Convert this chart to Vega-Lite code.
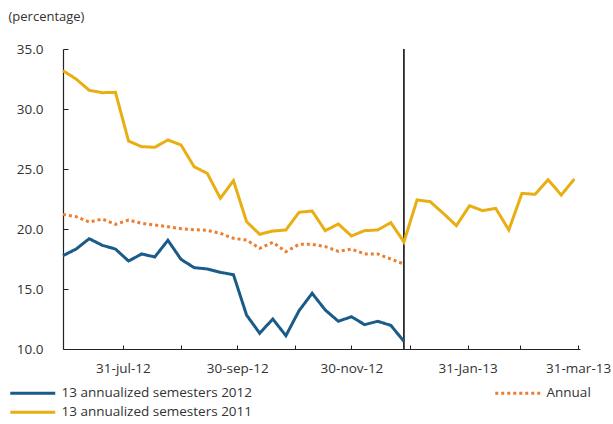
{
  "$schema": "https://vega.github.io/schema/vega-lite/v6.json",
  "width": 517,
  "height": 300,
  "autosize": {"type": "none"},
  "padding": {"left": 63, "top": 49, "right": 33, "bottom": 75},
  "background": "white",
  "config": {
    "view": {"stroke": null},
    "font": "Open Sans",
    "axis": {"labelFont": "Open Sans", "labelFontSize": 13.5, "labelColor": "#333333", "titleFont": "Open Sans", "titleFontSize": 13, "titleFontWeight": "normal", "titleColor": "#333333", "grid": false, "domainColor": "#222222", "tickColor": "#222222"},
    "legend": {"labelFont": "Open Sans", "labelFontSize": 13.5, "labelColor": "#333333"}
  },
  "datasets": {
    "lines": [
      {"date": "2012-06-29", "series": "13 annualized semesters 2011", "value": 33.19},
      {"date": "2012-07-06", "series": "13 annualized semesters 2011", "value": 32.5},
      {"date": "2012-07-13", "series": "13 annualized semesters 2011", "value": 31.56},
      {"date": "2012-07-20", "series": "13 annualized semesters 2011", "value": 31.36},
      {"date": "2012-07-27", "series": "13 annualized semesters 2011", "value": 31.39},
      {"date": "2012-08-03", "series": "13 annualized semesters 2011", "value": 27.33},
      {"date": "2012-08-10", "series": "13 annualized semesters 2011", "value": 26.86},
      {"date": "2012-08-17", "series": "13 annualized semesters 2011", "value": 26.81},
      {"date": "2012-08-24", "series": "13 annualized semesters 2011", "value": 27.42},
      {"date": "2012-08-31", "series": "13 annualized semesters 2011", "value": 27.0},
      {"date": "2012-09-07", "series": "13 annualized semesters 2011", "value": 25.19},
      {"date": "2012-09-14", "series": "13 annualized semesters 2011", "value": 24.64},
      {"date": "2012-09-21", "series": "13 annualized semesters 2011", "value": 22.56},
      {"date": "2012-09-28", "series": "13 annualized semesters 2011", "value": 24.03},
      {"date": "2012-10-05", "series": "13 annualized semesters 2011", "value": 20.61},
      {"date": "2012-10-12", "series": "13 annualized semesters 2011", "value": 19.56},
      {"date": "2012-10-19", "series": "13 annualized semesters 2011", "value": 19.83},
      {"date": "2012-10-26", "series": "13 annualized semesters 2011", "value": 19.92},
      {"date": "2012-11-02", "series": "13 annualized semesters 2011", "value": 21.39},
      {"date": "2012-11-09", "series": "13 annualized semesters 2011", "value": 21.5},
      {"date": "2012-11-16", "series": "13 annualized semesters 2011", "value": 19.86},
      {"date": "2012-11-23", "series": "13 annualized semesters 2011", "value": 20.42},
      {"date": "2012-11-30", "series": "13 annualized semesters 2011", "value": 19.42},
      {"date": "2012-12-07", "series": "13 annualized semesters 2011", "value": 19.86},
      {"date": "2012-12-14", "series": "13 annualized semesters 2011", "value": 19.92},
      {"date": "2012-12-21", "series": "13 annualized semesters 2011", "value": 20.53},
      {"date": "2012-12-28", "series": "13 annualized semesters 2011", "value": 18.92},
      {"date": "2013-01-04", "series": "13 annualized semesters 2011", "value": 22.42},
      {"date": "2013-01-11", "series": "13 annualized semesters 2011", "value": 22.28},
      {"date": "2013-01-18", "series": "13 annualized semesters 2011", "value": 21.31},
      {"date": "2013-01-25", "series": "13 annualized semesters 2011", "value": 20.28},
      {"date": "2013-02-01", "series": "13 annualized semesters 2011", "value": 21.94},
      {"date": "2013-02-08", "series": "13 annualized semesters 2011", "value": 21.53},
      {"date": "2013-02-15", "series": "13 annualized semesters 2011", "value": 21.72},
      {"date": "2013-02-22", "series": "13 annualized semesters 2011", "value": 19.92},
      {"date": "2013-03-01", "series": "13 annualized semesters 2011", "value": 22.97},
      {"date": "2013-03-08", "series": "13 annualized semesters 2011", "value": 22.89},
      {"date": "2013-03-15", "series": "13 annualized semesters 2011", "value": 24.1},
      {"date": "2013-03-22", "series": "13 annualized semesters 2011", "value": 22.83},
      {"date": "2013-03-29", "series": "13 annualized semesters 2011", "value": 24.17},
      {"date": "2012-06-29", "series": "13 annualized semesters 2012", "value": 17.78},
      {"date": "2012-07-06", "series": "13 annualized semesters 2012", "value": 18.33},
      {"date": "2012-07-13", "series": "13 annualized semesters 2012", "value": 19.19},
      {"date": "2012-07-20", "series": "13 annualized semesters 2012", "value": 18.64},
      {"date": "2012-07-27", "series": "13 annualized semesters 2012", "value": 18.33},
      {"date": "2012-08-03", "series": "13 annualized semesters 2012", "value": 17.33},
      {"date": "2012-08-10", "series": "13 annualized semesters 2012", "value": 17.92},
      {"date": "2012-08-17", "series": "13 annualized semesters 2012", "value": 17.67},
      {"date": "2012-08-24", "series": "13 annualized semesters 2012", "value": 19.06},
      {"date": "2012-08-31", "series": "13 annualized semesters 2012", "value": 17.47},
      {"date": "2012-09-07", "series": "13 annualized semesters 2012", "value": 16.78},
      {"date": "2012-09-14", "series": "13 annualized semesters 2012", "value": 16.67},
      {"date": "2012-09-21", "series": "13 annualized semesters 2012", "value": 16.39},
      {"date": "2012-09-28", "series": "13 annualized semesters 2012", "value": 16.19},
      {"date": "2012-10-05", "series": "13 annualized semesters 2012", "value": 12.83},
      {"date": "2012-10-12", "series": "13 annualized semesters 2012", "value": 11.31},
      {"date": "2012-10-19", "series": "13 annualized semesters 2012", "value": 12.5},
      {"date": "2012-10-26", "series": "13 annualized semesters 2012", "value": 11.11},
      {"date": "2012-11-02", "series": "13 annualized semesters 2012", "value": 13.19},
      {"date": "2012-11-09", "series": "13 annualized semesters 2012", "value": 14.64},
      {"date": "2012-11-16", "series": "13 annualized semesters 2012", "value": 13.25},
      {"date": "2012-11-23", "series": "13 annualized semesters 2012", "value": 12.31},
      {"date": "2012-11-30", "series": "13 annualized semesters 2012", "value": 12.69},
      {"date": "2012-12-07", "series": "13 annualized semesters 2012", "value": 12.03},
      {"date": "2012-12-14", "series": "13 annualized semesters 2012", "value": 12.31},
      {"date": "2012-12-21", "series": "13 annualized semesters 2012", "value": 11.97},
      {"date": "2012-12-28", "series": "13 annualized semesters 2012", "value": 10.64},
      {"date": "2012-06-29", "series": "Annual", "value": 21.22},
      {"date": "2012-07-06", "series": "Annual", "value": 21.03},
      {"date": "2012-07-13", "series": "Annual", "value": 20.58},
      {"date": "2012-07-20", "series": "Annual", "value": 20.83},
      {"date": "2012-07-27", "series": "Annual", "value": 20.39},
      {"date": "2012-08-03", "series": "Annual", "value": 20.75},
      {"date": "2012-08-10", "series": "Annual", "value": 20.47},
      {"date": "2012-08-17", "series": "Annual", "value": 20.33},
      {"date": "2012-08-24", "series": "Annual", "value": 20.19},
      {"date": "2012-08-31", "series": "Annual", "value": 20.03},
      {"date": "2012-09-07", "series": "Annual", "value": 19.94},
      {"date": "2012-09-14", "series": "Annual", "value": 19.89},
      {"date": "2012-09-21", "series": "Annual", "value": 19.64},
      {"date": "2012-09-28", "series": "Annual", "value": 19.22},
      {"date": "2012-10-05", "series": "Annual", "value": 19.08},
      {"date": "2012-10-12", "series": "Annual", "value": 18.39},
      {"date": "2012-10-19", "series": "Annual", "value": 18.89},
      {"date": "2012-10-26", "series": "Annual", "value": 18.11},
      {"date": "2012-11-02", "series": "Annual", "value": 18.72},
      {"date": "2012-11-09", "series": "Annual", "value": 18.72},
      {"date": "2012-11-16", "series": "Annual", "value": 18.53},
      {"date": "2012-11-23", "series": "Annual", "value": 18.14},
      {"date": "2012-11-30", "series": "Annual", "value": 18.33},
      {"date": "2012-12-07", "series": "Annual", "value": 17.92},
      {"date": "2012-12-14", "series": "Annual", "value": 17.92},
      {"date": "2012-12-21", "series": "Annual", "value": 17.5},
      {"date": "2012-12-28", "series": "Annual", "value": 17.08}
    ],
    "marker": [{"date": "2012-12-28"}]
  },
  "layer": [
    {
      "data": {"name": "marker"},
      "mark": {"type": "rule", "color": "#000000", "strokeWidth": 1.5},
      "encoding": {
        "x": {"field": "date", "type": "temporal"}
      }
    },
    {
      "data": {"name": "lines"},
      "mark": {"type": "line", "strokeWidth": 3, "strokeJoin": "miter", "strokeCap": "butt"},
      "encoding": {
        "x": {
          "field": "date",
          "type": "temporal",
          "scale": {"type": "utc", "domain": [{"year": 2012, "month": 6, "date": 29, "utc": true}, {"year": 2013, "month": 4, "date": 1, "utc": true}], "nice": false},
          "axis": {
            "title": null,
            "values": [
              {"year": 2012, "month": 7, "date": 31, "utc": true},
              {"year": 2012, "month": 8, "date": 31, "utc": true},
              {"year": 2012, "month": 9, "date": 30, "utc": true},
              {"year": 2012, "month": 10, "date": 31, "utc": true},
              {"year": 2012, "month": 11, "date": 30, "utc": true},
              {"year": 2012, "month": 12, "date": 31, "utc": true},
              {"year": 2013, "month": 1, "date": 31, "utc": true},
              {"year": 2013, "month": 2, "date": 28, "utc": true},
              {"year": 2013, "month": 3, "date": 31, "utc": true}
            ],
            "labelExpr": "utcmonth(datum.value) == 6 ? '31-jul-12' : utcmonth(datum.value) == 8 ? '30-sep-12' : utcmonth(datum.value) == 10 ? '30-nov-12' : utcmonth(datum.value) == 0 ? '31-Jan-13' : utcmonth(datum.value) == 2 ? '31-mar-13' : ''",
            "tickSize": -4,
            "labelPadding": 16,
            "labelFlush": false,
            "labelOverlap": false,
            "domainWidth": 1.2
          }
        },
        "y": {
          "field": "value",
          "type": "quantitative",
          "scale": {"domain": [10, 35], "nice": false, "zero": false},
          "axis": {
            "title": "(percentage)",
            "titleAngle": 0,
            "titleAlign": "left",
            "titleBaseline": "middle",
            "titleX": -55,
            "titleY": -33,
            "values": [10, 15, 20, 25, 30, 35],
            "format": ".1f",
            "tickSize": -5,
            "labelPadding": 25,
            "domainWidth": 1.2
          }
        },
        "color": {
          "field": "series",
          "type": "nominal",
          "scale": {"domain": ["13 annualized semesters 2012", "13 annualized semesters 2011", "Annual"], "range": ["#1a5b8a", "#e8ae12", "#ec7e30"]},
          "legend": {
            "title": null,
            "orient": "none",
            "legendX": -55,
            "legendY": 337,
            "columns": 2,
            "columnPadding": 236,
            "rowPadding": 4.5,
            "symbolType": "M-1,0H9",
            "symbolSize": 81,
            "symbolStrokeWidth": 3,
            "labelOffset": 40,
            "labelLimit": 400
          }
        },
        "strokeDash": {
          "field": "series",
          "type": "nominal",
          "scale": {"domain": ["13 annualized semesters 2012", "13 annualized semesters 2011", "Annual"], "range": [[1, 0], [1, 0], [3, 3]]},
          "legend": null
        }
      }
    }
  ]
}
